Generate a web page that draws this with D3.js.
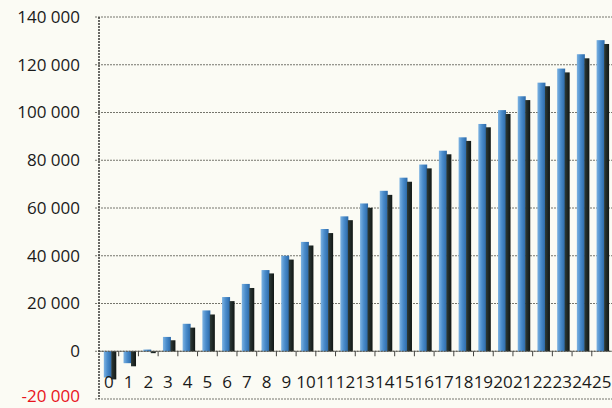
<!DOCTYPE html>
<html>
<head>
<meta charset="utf-8">
<script src="https://cdn.jsdelivr.net/npm/d3@7"></script>
<style>
  html, body { margin: 0; padding: 0; background: #fbfbf4; }
  svg { display: block; }
  text { font-family: "Open Sans", sans-serif; }
</style>
</head>
<body>
<script>
const categories = ["0","1","2","3","4","5","6","7","8","9","10","11","12","13","14","15","16","17","18","19","20","21","22","23","24","25"];
const seriesBlue = [-11000, -5000, 700, 6000, 11500, 17100, 22700, 28200, 34000, 40000, 45800, 51200, 56500, 61900, 67200, 72700, 78200, 84000, 89600, 95200, 101000, 106800, 112500, 118400, 124400, 130300];
const seriesDark = [-11800, -6300, -800, 4600, 9900, 15400, 21000, 26500, 32600, 38400, 44300, 49500, 54900, 60100, 65500, 71000, 76600, 82500, 88100, 93800, 99400, 105200, 111000, 116800, 122700, 128700];
const yTicks = [-20000, 0, 20000, 40000, 60000, 80000, 100000, 120000, 140000];
const yTickLabels = ["-20 000", "0", "20 000", "40 000", "60 000", "80 000", "100 000", "120 000", "140 000"];

const W = 612, H = 408;
const mLeft = 99, mRight = 611.5, mTop = 17, mBottom = 399;

const svg = d3.select("body").append("svg").attr("width", W).attr("height", H);

const defs = svg.append("defs");
const gb = defs.append("linearGradient").attr("id", "gBlue").attr("x1", "0").attr("x2", "1").attr("y1", "0").attr("y2", "0");
gb.append("stop").attr("offset", "0%").attr("stop-color", "#7db3e2");
gb.append("stop").attr("offset", "45%").attr("stop-color", "#4a8ccb");
gb.append("stop").attr("offset", "100%").attr("stop-color", "#2a68a8");
const gd = defs.append("linearGradient").attr("id", "gDark").attr("x1", "0").attr("x2", "1").attr("y1", "0").attr("y2", "0");
gd.append("stop").attr("offset", "0%").attr("stop-color", "#2e3b38");
gd.append("stop").attr("offset", "100%").attr("stop-color", "#101614");

const x = d3.scaleBand().domain(categories).range([mLeft, mRight]).padding(0);
const y = d3.scaleLinear().domain([-20000, 140000]).range([mBottom, mTop]);

// gridlines
svg.append("g").selectAll("line").data(yTicks).join("line")
  .attr("x1", mLeft - 4).attr("x2", W)
  .attr("y1", d => y(d)).attr("y2", d => y(d))
  .attr("stroke", "#75756c").attr("stroke-width", 1)
  .attr("stroke-dasharray", "2,1");

// y axis labels
svg.append("g").selectAll("text").data(yTicks).join("text")
  .attr("x", 80).attr("y", d => d < 0 ? y(d) - 3 : y(d))
  .attr("dy", "0.35em")
  .attr("text-anchor", "end")
  .attr("font-size", 17)
  .attr("fill", d => d < 0 ? "#e8141c" : "#1a1a1a")
  .text((d, i) => yTickLabels[i]);

const bw = 8, dw = 5, off = 4.8;

// blue bars
svg.append("g").selectAll("rect").data(seriesBlue).join("rect")
  .attr("x", (d, i) => x(categories[i]) + off)
  .attr("width", bw)
  .attr("y", d => Math.min(y(d), y(0)))
  .attr("height", d => Math.abs(y(d) - y(0)))
  .attr("fill", "url(#gBlue)");

// dark bars
svg.append("g").selectAll("rect").data(seriesDark).join("rect")
  .attr("x", (d, i) => x(categories[i]) + off + bw - 0.5)
  .attr("width", dw)
  .attr("y", d => Math.min(y(d), y(0)))
  .attr("height", d => Math.abs(y(d) - y(0)))
  .attr("fill", "url(#gDark)");

// zero axis line with category ticks
svg.append("line").attr("x1", mLeft).attr("x2", W)
  .attr("y1", y(0)).attr("y2", y(0))
  .attr("stroke", "#555550").attr("stroke-width", 1.2).attr("stroke-dasharray", "2,1");
svg.append("g").selectAll("line").data(categories.slice(1)).join("line")
  .attr("x1", d => x(d)).attr("x2", d => x(d))
  .attr("y1", y(0)).attr("y2", y(0) + 5)
  .attr("stroke", "#444440").attr("stroke-width", 1);

// y axis line
svg.append("line").attr("x1", mLeft).attr("x2", mLeft)
  .attr("y1", mTop).attr("y2", mBottom)
  .attr("stroke", "#3a3a36").attr("stroke-width", 1.5).attr("stroke-dasharray", "2,1");

// x labels
svg.append("g").selectAll("text").data(categories).join("text")
  .attr("x", d => x(d) + x.bandwidth() / 2)
  .attr("y", 382)
  .attr("dy", "0.35em")
  .attr("text-anchor", "middle")
  .attr("font-size", 17)
  .attr("fill", "#1a1a1a")
  .text(d => d);
</script>
</body>
</html>
